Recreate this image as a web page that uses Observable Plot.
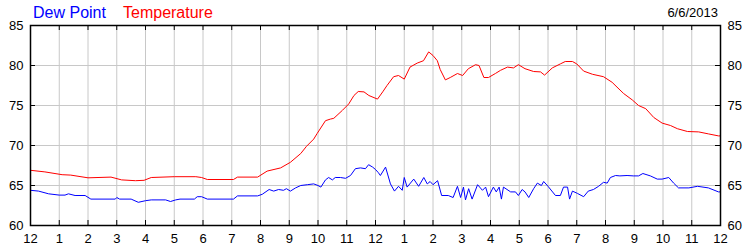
<!DOCTYPE html>
<html><head><meta charset="utf-8">
<script src="https://cdn.jsdelivr.net/npm/d3@7"></script>
<script src="https://cdn.jsdelivr.net/npm/@observablehq/plot@0.6"></script>
<style>
body{margin:0;background:#fff;}
#chart{position:relative;width:750px;height:250px;font-family:"Liberation Sans",Arial,sans-serif;}
#chart svg{position:absolute;left:0;top:0;}
.t{position:absolute;white-space:nowrap;line-height:1;}
</style></head><body>
<div id="chart"></div>
<script>
// Hours since midnight (0..24) and readings
const hourLabels = ["12","1","2","3","4","5","6","7","8","9","10","11","12","1","2","3","4","5","6","7","8","9","10","11","12"];
const yTicks = [60,65,70,75,80,85];

const tempHour = [0.0,0.5,1.1,1.4,2.0,2.8,3.17,3.65,3.95,4.2,5.0,5.75,5.95,6.15,7.06,7.2,7.9,8.23,8.7,9.04,9.4,9.6,9.85,9.97,10.26,10.43,10.55,10.85,11.07,11.25,11.4,11.6,11.77,12.07,12.25,12.4,12.63,12.8,13.0,13.2,13.45,13.67,13.85,14.0,14.15,14.25,14.43,14.6,14.85,15.03,15.23,15.48,15.6,15.77,15.93,16.17,16.35,16.59,16.8,16.97,17.2,17.5,17.74,17.88,18.15,18.43,18.6,18.85,19.0,19.24,19.55,19.93,20.23,20.4,20.63,20.93,21.15,21.4,21.68,21.97,22.26,22.5,22.85,23.24,23.58,23.93,24.0];
const tempValue = [66.9,66.7,66.35,66.3,65.96,66.05,65.7,65.6,65.65,66.0,66.1,66.1,66.0,65.75,65.75,66.05,66.05,66.8,67.2,67.9,69.0,69.9,70.8,71.5,73.1,73.3,73.4,74.4,75.2,76.25,76.75,76.7,76.25,75.8,76.7,77.5,78.6,78.75,78.3,79.8,80.3,80.6,81.7,81.25,80.6,79.5,78.2,78.5,79.0,78.75,79.6,80.1,80.0,78.5,78.5,79.0,79.4,79.8,79.7,80.1,79.6,79.25,79.2,78.8,79.7,80.2,80.5,80.5,80.2,79.3,78.9,78.6,77.9,77.3,76.5,75.7,75.0,74.6,73.5,72.8,72.5,72.1,71.75,71.7,71.45,71.2,71.2];

const dewHour = [0.0,0.28,0.63,1.0,1.2,1.32,1.55,1.9,2.1,2.95,3.0,3.1,3.5,3.75,4.0,4.2,4.7,4.87,5.05,5.2,5.7,5.8,5.95,6.15,7.06,7.2,7.9,8.06,8.3,8.46,8.63,8.8,8.9,9.04,9.22,9.4,9.63,9.85,10.0,10.1,10.26,10.37,10.5,10.6,10.78,10.96,11.13,11.3,11.48,11.65,11.76,11.9,12.0,12.1,12.17,12.35,12.52,12.66,12.8,12.93,13.0,13.1,13.33,13.5,13.68,13.8,13.9,14.0,14.16,14.3,14.53,14.7,14.85,14.96,15.06,15.13,15.24,15.36,15.55,15.72,15.83,15.93,16.1,16.2,16.3,16.38,16.45,16.7,16.87,16.97,17.1,17.2,17.33,17.5,17.63,17.77,17.85,18.0,18.26,18.43,18.54,18.68,18.75,18.85,19.03,19.24,19.4,19.58,19.76,19.93,20.06,20.17,20.35,20.5,20.75,20.97,21.15,21.3,21.56,21.8,21.97,22.2,22.37,22.54,22.9,23.2,23.58,23.93,24.0];
const dewValue = [64.4,64.3,63.96,63.8,63.8,63.96,63.75,63.75,63.3,63.3,63.5,63.3,63.3,62.9,63.1,63.2,63.2,63.0,63.2,63.3,63.3,63.6,63.6,63.3,63.3,63.7,63.7,63.9,64.5,64.3,64.5,64.4,64.6,64.3,64.7,65.0,65.1,65.2,65.0,64.8,65.7,66.0,65.7,66.0,66.0,65.9,66.25,67.1,67.2,67.1,67.6,67.3,67.0,66.6,66.25,67.3,65.2,64.3,64.9,64.4,66.0,64.8,65.8,64.9,66.0,65.2,65.5,65.1,65.6,63.75,63.75,63.5,64.9,63.5,64.8,63.2,64.6,63.3,65.1,64.4,64.8,63.6,64.8,64.2,64.8,63.3,64.8,64.2,64.2,63.75,64.5,64.2,63.5,64.6,65.3,65.0,65.5,64.9,63.75,63.75,64.8,64.8,63.3,64.3,64.0,63.6,64.3,64.5,64.9,65.4,65.3,66.0,66.25,66.2,66.25,66.2,66.2,66.5,66.2,65.8,65.8,66.0,65.3,64.7,64.7,64.9,64.7,64.2,64.2];

const temp = tempHour.map((h, i) => ({h, v: tempValue[i]}));
const dew = dewHour.map((h, i) => ({h, v: dewValue[i]}));
const hours = d3.range(0, 25);

const plot = Plot.plot({
  width: 750, height: 250,
  marginTop: 25, marginBottom: 25, marginLeft: 30, marginRight: 30,
  style: {fontFamily: "'Liberation Sans', Arial, sans-serif", fontSize: "13px", background: "white", color: "black", overflow: "visible"},
  x: {domain: [0, 24], axis: null},
  y: {domain: [60, 85], axis: null},
  marks: [
    Plot.ruleX(hours.slice(1, -1), {x: d => d, stroke: "#c8c8c8"}),
    Plot.ruleY(yTicks.slice(1, -1), {y: d => d, stroke: "#c8c8c8"}),
    Plot.line(dew, {x: "h", y: "v", stroke: "#0000ff", strokeWidth: 1}),
    Plot.line(temp, {x: "h", y: "v", stroke: "#ff0000", strokeWidth: 1}),
    Plot.tickX(hours, {x: d => d, stroke: "black", insetBottom: 195}),
    Plot.tickX(hours, {x: d => d, stroke: "black", insetTop: 195}),
    Plot.tickY(yTicks, {y: d => d, stroke: "black", insetRight: 685}),
    Plot.tickY(yTicks, {y: d => d, stroke: "black", insetLeft: 685}),
    Plot.frame({stroke: "black", strokeWidth: 1.5}),
    Plot.text(hours, {x: d => d, y: () => 60, text: (d, i) => hourLabels[i], dy: 13, fill: "black"}),
    Plot.text(yTicks, {x: () => 0, y: d => d, text: d => String(d), textAnchor: "end", dx: -7, fill: "black"}),
    Plot.text(yTicks, {x: () => 24, y: d => d, text: d => String(d), textAnchor: "start", dx: 7, fill: "black"})
  ]
});

const chart = document.getElementById("chart");
chart.appendChild(plot);
const titles = [
  {text: "Dew Point", style: "left:33px;top:5px;font-size:16px;color:#0000ff"},
  {text: "Temperature", style: "left:123px;top:5px;font-size:16px;color:#ff0000"},
  {text: "6/6/2013", style: "right:32px;top:6px;font-size:13px;color:#000"}
];
for (const t of titles) {
  const d = document.createElement("div");
  d.className = "t";
  d.setAttribute("style", t.style);
  d.textContent = t.text;
  chart.appendChild(d);
}
</script>
</body></html>
